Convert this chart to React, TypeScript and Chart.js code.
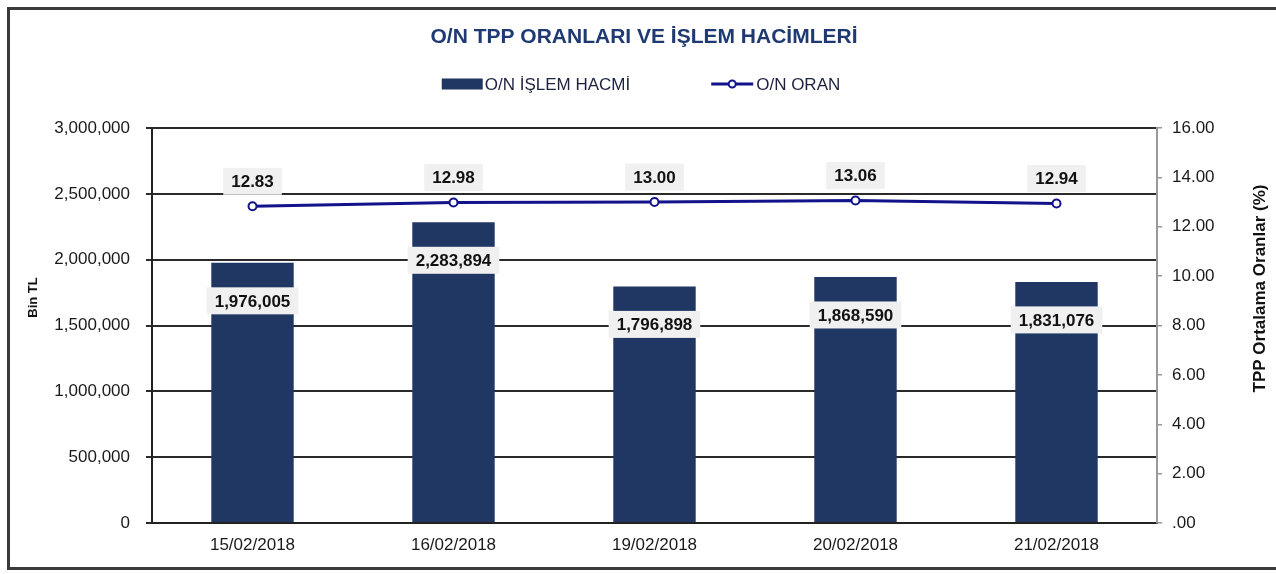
import React, { useEffect, useRef } from 'react';
import { Chart, registerables } from 'chart.js';

Chart.register(...registerables);

const chartTitle = 'O/N TPP ORANLARI VE İŞLEM HACİMLERİ';
const categories = ['15/02/2018', '16/02/2018', '19/02/2018', '20/02/2018', '21/02/2018'];
const volumeLabel = 'O/N İŞLEM HACMİ';
const volumes = [1976005, 2283894, 1796898, 1868590, 1831076];
const rateLabel = 'O/N ORAN';
const rates = [12.83, 12.98, 13.0, 13.06, 12.94];
const leftAxisTitle = 'Bin TL';
const rightAxisTitle = 'TPP Ortalama Oranlar (%)';
const leftMax = 3000000;
const leftStep = 500000;
const rightMax = 16;
const rightStep = 2;

const FONT = '"Liberation Sans", Arial, sans-serif';
const BAR_COLOR = '#213763';
const LINE_COLOR = '#12128a';
const TEXT_COLOR = '#1a1a1a';
const TITLE_COLOR = '#1f3a72';
const LEGEND_TEXT = '#1c2240';

const fmtInt = (v: number) => Math.round(v).toLocaleString('en-US');
const fmtRate = (v: number) => (v === 0 ? '.00' : v.toFixed(2));

function drawLabelBox(ctx: CanvasRenderingContext2D, text: string, cx: number, cy: number) {
  ctx.save();
  ctx.font = `bold 17px ${FONT}`;
  const w = ctx.measureText(text).width + 16;
  const h = 27;
  ctx.fillStyle = '#f0f0f0';
  ctx.fillRect(cx - w / 2, cy - h / 2, w, h);
  ctx.fillStyle = '#111111';
  ctx.textAlign = 'center';
  ctx.textBaseline = 'middle';
  ctx.fillText(text, cx, cy + 1);
  ctx.restore();
}

const decorPlugin = {
  id: 'decor',
  beforeDraw(chart: any) {
    const ctx = chart.ctx as CanvasRenderingContext2D;
    ctx.save();
    ctx.fillStyle = '#ffffff';
    ctx.fillRect(0, 0, chart.width, chart.height);
    ctx.strokeStyle = '#3a3a3a';
    ctx.lineWidth = 3;
    ctx.strokeRect(8.5, 8.5, chart.width + 10, 560);
    ctx.restore();
  },
  afterDatasetsDraw(chart: any) {
    const ctx = chart.ctx as CanvasRenderingContext2D;
    const barMeta = chart.getDatasetMeta(0);
    barMeta.data.forEach((el: any, i: number) => {
      drawLabelBox(ctx, fmtInt(volumes[i]), el.x, el.y + 38);
    });
    const lineMeta = chart.getDatasetMeta(1);
    lineMeta.data.forEach((el: any, i: number) => {
      drawLabelBox(ctx, rates[i].toFixed(2), el.x, el.y - 25);
    });
  },
  afterDraw(chart: any) {
    const ctx = chart.ctx as CanvasRenderingContext2D;
    const area = chart.chartArea;
    ctx.save();
    // Title
    ctx.font = `bold 21px ${FONT}`;
    ctx.fillStyle = TITLE_COLOR;
    ctx.textAlign = 'center';
    ctx.textBaseline = 'middle';
    ctx.fillText(chartTitle, chart.width / 2 + 6, 37);

    // Legend
    ctx.font = `17px ${FONT}`;
    const t1 = ctx.measureText(volumeLabel).width;
    const t2 = ctx.measureText(rateLabel).width;
    const sw1 = 41, g1 = 2, gap = 81, sw2 = 42, g2 = 3;
    const total = sw1 + g1 + t1 + gap + sw2 + g2 + t2;
    let x = chart.width / 2 + 3 - total / 2;
    const ly = 84;
    ctx.fillStyle = BAR_COLOR;
    ctx.fillRect(x, ly - 5.5, sw1, 11);
    x += sw1 + g1;
    ctx.fillStyle = LEGEND_TEXT;
    ctx.textAlign = 'left';
    ctx.fillText(volumeLabel, x, ly + 1);
    x += t1 + gap;
    ctx.strokeStyle = LINE_COLOR;
    ctx.lineWidth = 3;
    ctx.beginPath();
    ctx.moveTo(x, ly);
    ctx.lineTo(x + sw2, ly);
    ctx.stroke();
    ctx.beginPath();
    ctx.arc(x + sw2 / 2, ly, 3.5, 0, Math.PI * 2);
    ctx.fillStyle = '#ffffff';
    ctx.fill();
    ctx.lineWidth = 2;
    ctx.stroke();
    x += sw2 + g2;
    ctx.fillStyle = LEGEND_TEXT;
    ctx.fillText(rateLabel, x, ly + 1);

    // Axis titles
    const midY = (area.top + area.bottom) / 2;
    ctx.fillStyle = '#111111';
    ctx.textAlign = 'center';
    ctx.textBaseline = 'middle';
    ctx.save();
    ctx.translate(33, midY - 28);
    ctx.rotate(-Math.PI / 2);
    ctx.font = `bold 13px ${FONT}`;
    ctx.fillText(leftAxisTitle, 0, 0);
    ctx.restore();
    ctx.save();
    ctx.translate(1260, midY - 37);
    ctx.rotate(-Math.PI / 2);
    ctx.font = `bold 17px ${FONT}`;
    ctx.fillText(rightAxisTitle, 0, 0);
    ctx.restore();
    ctx.restore();
  },
};

export default function App() {
  const ref = useRef<HTMLCanvasElement | null>(null);

  useEffect(() => {
    if (!ref.current) return;
    const chart = new Chart(ref.current, {
      type: 'bar',
      data: {
        labels: categories,
        datasets: [
          {
            type: 'bar',
            label: volumeLabel,
            data: volumes,
            backgroundColor: BAR_COLOR,
            borderWidth: 0,
            barPercentage: 0.41,
            categoryPercentage: 1,
            yAxisID: 'y',
            order: 2,
          },
          {
            type: 'line',
            label: rateLabel,
            data: rates,
            borderColor: LINE_COLOR,
            borderWidth: 3,
            pointRadius: 4,
            pointBorderWidth: 2,
            pointBackgroundColor: '#ffffff',
            pointBorderColor: LINE_COLOR,
            tension: 0,
            yAxisID: 'y1',
            order: 1,
          } as any,
        ],
      },
      options: {
        animation: false,
        responsive: true,
        maintainAspectRatio: false,
        layout: { padding: { top: 128, left: 0, right: 0, bottom: 0 } },
        plugins: {
          legend: { display: false },
          title: { display: false },
          tooltip: { enabled: false },
        },
        scales: {
          x: {
            grid: { display: false, drawTicks: false },
            border: { display: true, color: '#222222', width: 2 },
            ticks: { color: TEXT_COLOR, font: { family: FONT, size: 17 }, padding: 12, maxRotation: 0 },
            afterFit: (s: any) => { s.height = 51; },
          },
          y: {
            position: 'left',
            min: 0,
            max: leftMax,
            grid: { color: '#2a2a2a', lineWidth: 2, tickLength: 6, drawTicks: true },
            border: { display: true, color: '#222222', width: 2 },
            ticks: {
              stepSize: leftStep,
              color: TEXT_COLOR,
              font: { family: FONT, size: 17 },
              padding: 16,
              callback: (v: any) => fmtInt(Number(v)),
            },
            afterFit: (s: any) => { s.width = 152; },
          },
          y1: {
            position: 'right',
            min: 0,
            max: rightMax,
            grid: { drawOnChartArea: false, color: '#999999', lineWidth: 1.5, tickLength: 5 },
            border: { display: true, color: '#999999', width: 2 },
            ticks: {
              stepSize: rightStep,
              color: TEXT_COLOR,
              font: { family: FONT, size: 17 },
              padding: 10,
              callback: (v: any) => fmtRate(Number(v)),
            },
            afterFit: (s: any) => { s.width = 119; },
          },
        },
      },
      plugins: [decorPlugin],
    } as any);
    return () => chart.destroy();
  }, []);

  return (
    <div style={{ position: 'absolute', left: 0, top: 0, width: 1276, height: 574 }}>
      <canvas ref={ref} />
    </div>
  );
}
